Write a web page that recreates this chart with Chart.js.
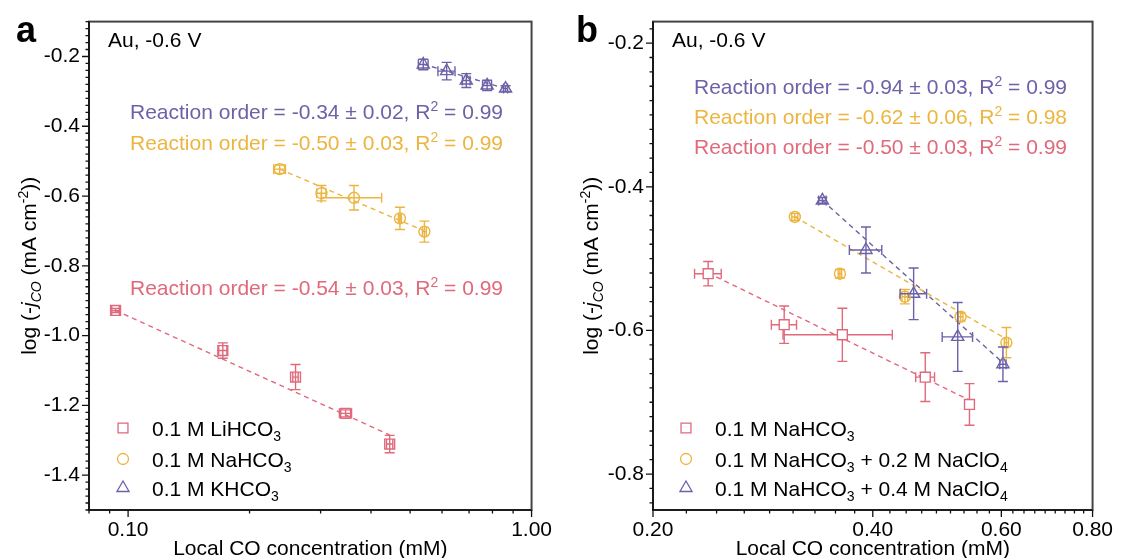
<!DOCTYPE html>
<html><head><meta charset="utf-8">
<script src="https://cdn.jsdelivr.net/npm/chart.js@4/dist/chart.umd.min.js"></script>
<style>
html,body{margin:0;padding:0;background:#fff;}
#wrap{position:relative;width:1121px;height:558px;overflow:hidden;background:#fff;}
#ca{position:absolute;left:0;top:0;}
#cb{position:absolute;left:560px;top:0;}
</style></head><body>
<div id="wrap"><canvas id="ca" width="560" height="558"></canvas><canvas id="cb" width="561" height="558"></canvas></div>
<script>
// ---------- DATA ----------
// Panel a
const aXTickLabels = [0.10, 1.00];
const aYTickLabels = [-1.4, -1.2, -1.0, -0.8, -0.6, -0.4, -0.2];
const aLiX = [0.0931, 0.1717, 0.260, 0.346, 0.445];
const aLiY = [-0.928, -1.043, -1.119, -1.223, -1.311];
const aLiXErr = [0.002, 0.004, 0.004, 0.012, 0.008];
const aLiYErr = [0.006, 0.022, 0.036, 0.010, 0.025];
const aNaX = [0.2375, 0.3015, 0.363, 0.4718, 0.5425];
const aNaY = [-0.523, -0.592, -0.605, -0.664, -0.702];
const aNaXErr = [0.008, 0.008, 0.062, 0.004, 0.006];
const aNaYErr = [0.012, 0.022, 0.035, 0.032, 0.030];
const aKX = [0.539, 0.616, 0.689, 0.776, 0.862];
const aKY = [-0.223, -0.242, -0.269, -0.283, -0.292];
const aKXErr = [0.015, 0.030, 0.015, 0.020, 0.010];
const aKYErr = [0.015, 0.025, 0.020, 0.015, 0.008];
const aLiFitX = [0.0931, 0.445], aLiFitY = [-0.928, -1.285];
const aNaFitX = [0.2375, 0.5425], aNaFitY = [-0.523, -0.700];
const aKFitX = [0.539, 0.862], aKFitY = [-0.222, -0.292];
const aLabels = ['0.1 M LiHCO|3', '0.1 M NaHCO|3', '0.1 M KHCO|3'];
const aOrders = [['-0.34', '0.02', '0.99'], ['-0.50', '0.03', '0.99'], ['-0.54', '0.03', '0.99']];

// Panel b
const bXTickLabels = [0.20, 0.40, 0.60, 0.80];
const bYTickLabels = [-0.8, -0.6, -0.4, -0.2];
const bNaX = [0.238, 0.3025, 0.3634, 0.472, 0.5426];
const bNaY = [-0.521, -0.592, -0.606, -0.665, -0.703];
const bNaXErr = [0.010, 0.012, 0.062, 0.014, 0.005];
const bNaYErr = [0.017, 0.026, 0.037, 0.034, 0.029];
const bP2X = [0.3128, 0.3606, 0.4426, 0.5276, 0.6096];
const bP2Y = [-0.442, -0.521, -0.553, -0.581, -0.617];
const bP2XErr = [0.003, 0.002, 0.004, 0.004, 0.004];
const bP2YErr = [0.005, 0.006, 0.010, 0.006, 0.021];
const bP4X = [0.3412, 0.3915, 0.455, 0.5229, 0.603];
const bP4Y = [-0.419, -0.488, -0.549, -0.609, -0.647];
const bP4XErr = [0.004, 0.020, 0.019, 0.025, 0.006];
const bP4YErr = [0.004, 0.032, 0.036, 0.048, 0.024];
const bNaFitX = [0.238, 0.5426], bNaFitY = [-0.520, -0.697];
const bP2FitX = [0.3128, 0.6096], bP2FitY = [-0.442, -0.612];
const bP4FitX = [0.3412, 0.603], bP4FitY = [-0.419, -0.645];
const bLabels = ['0.1 M NaHCO|3', '0.1 M NaHCO|3| + 0.2 M NaClO|4', '0.1 M NaHCO|3| + 0.4 M NaClO|4'];
const bOrders = [['-0.94', '0.03', '0.99'], ['-0.62', '0.06', '0.98'], ['-0.50', '0.03', '0.99']];

// ---------- STYLE ----------
const RED = '#E0697C', YEL = '#ECB540', PUR = '#6C62A8';
const FONT = '"Liberation Sans", Arial, Helvetica, sans-serif';
const FS = 21;

function pts(xs, ys) { return xs.map((x, i) => ({ x: x, y: ys[i] })); }

function drawRich(ctx, segs, x, y, size, color, align) {
  const fontFor = s => (s.b ? 'bold ' : '') + (s.it ? 'italic ' : '') + ((s.sub || s.sup) ? Math.round(size * 0.68) : size) + 'px ' + FONT;
  let total = 0;
  segs.forEach(s => { ctx.font = fontFor(s); s.w = ctx.measureText(s.t).width; total += s.w; });
  let cx = align === 'center' ? x - total / 2 : (align === 'right' ? x - total : x);
  ctx.fillStyle = color; ctx.textBaseline = 'alphabetic'; ctx.textAlign = 'left';
  segs.forEach(s => {
    ctx.font = fontFor(s);
    const dy = s.sub ? size * 0.28 : (s.sup ? -size * 0.38 : 0);
    ctx.fillText(s.t, cx, y + dy);
    cx += s.w;
  });
}
function subSegs(label) {
  return label.split('|').map((t, i) => ({ t: t, sub: i % 2 === 1 }));
}
function orderSegs(o) {
  return [{ t: 'Reaction order = ' + o[0] + ' \u00B1 ' + o[1] + ', R' }, { t: '2', sup: true }, { t: ' = ' + o[2] }];
}

function minorLinear(min, max, step) {
  const out = [];
  for (let v = Math.ceil(min / step - 1e-6) * step; v <= max + 1e-9; v += step) out.push(+v.toFixed(4));
  return out;
}

function drawErrors(chart, over) {
  const ctx = chart.ctx, xs = chart.scales.x, ys = chart.scales.y;
  ctx.save();
  chart.data.datasets.forEach(ds => {
    if (!ds.errX || !!ds.errOver !== over) return;
    ctx.strokeStyle = ds.borderColor; ctx.lineWidth = 1.4;
    ds.data.forEach((p, i) => {
      const px = xs.getPixelForValue(p.x), py = ys.getPixelForValue(p.y);
      const ex = ds.errX[i], ey = ds.errY[i];
      const x1 = xs.getPixelForValue(p.x - ex), x2 = xs.getPixelForValue(p.x + ex);
      const y1 = ys.getPixelForValue(p.y - ey), y2 = ys.getPixelForValue(p.y + ey);
      const cap = 5;
      ctx.beginPath();
      ctx.moveTo(x1, py); ctx.lineTo(x2, py);
      ctx.moveTo(x1, py - cap); ctx.lineTo(x1, py + cap);
      ctx.moveTo(x2, py - cap); ctx.lineTo(x2, py + cap);
      ctx.moveTo(px, y1); ctx.lineTo(px, y2);
      ctx.moveTo(px - cap, y1); ctx.lineTo(px + cap, y1);
      ctx.moveTo(px - cap, y2); ctx.lineTo(px + cap, y2);
      ctx.stroke();
    });
  });
  ctx.restore();
}

const decorPlugin = {
  id: 'decor',
  beforeDatasetsDraw(chart) { drawErrors(chart, false); },
  afterDatasetsDraw(chart) { drawErrors(chart, true); },
  afterDraw(chart) {
    const o = chart.options.plugins.decor, ctx = chart.ctx, a = chart.chartArea;
    const xs = chart.scales.x, ys = chart.scales.y;
    ctx.save();
    // frame
    ctx.strokeStyle = '#444'; ctx.lineWidth = 2;
    ctx.strokeRect(a.left, a.top, a.right - a.left, a.bottom - a.top);
    ctx.strokeStyle = '#111'; ctx.lineWidth = 1.6;
    ctx.beginPath(); ctx.moveTo(a.left, a.top); ctx.lineTo(a.left, a.bottom); ctx.lineTo(a.right, a.bottom); ctx.stroke();
    // ticks
    ctx.lineWidth = 1.3; ctx.strokeStyle = '#111';
    ctx.beginPath();
    o.yMinor.forEach(v => { const y = ys.getPixelForValue(v); if (y < a.top - 0.5 || y > a.bottom + 0.5) return; ctx.moveTo(a.left - 3.5, y); ctx.lineTo(a.left, y); });
    o.yMajor.forEach(v => { const y = ys.getPixelForValue(v); ctx.moveTo(a.left - 7, y); ctx.lineTo(a.left, y); });
    o.xMinor.forEach(v => { const x = xs.getPixelForValue(v); if (x < a.left - 0.5 || x > a.right + 0.5) return; ctx.moveTo(x, a.bottom); ctx.lineTo(x, a.bottom + 3.5); });
    o.xMajor.forEach(v => { const x = xs.getPixelForValue(v); ctx.moveTo(x, a.bottom); ctx.lineTo(x, a.bottom + 7); });
    ctx.stroke();
    // panel letter
    drawRich(ctx, [{ t: o.letter, b: true }], 16, 42, 36, '#000', 'left');
    // condition label
    drawRich(ctx, [{ t: 'Au, -0.6 V' }], o.auX, 47, FS, '#000', 'left');
    // reaction orders
    o.orders.forEach((r, i) => drawRich(ctx, orderSegs(r), o.ordX, o.ordY[i], FS, o.ordColors[i], 'left'));
    // legend
    o.legend.forEach((l, i) => {
      const y = o.legY[i];
      ctx.save();
      ctx.strokeStyle = l.color; ctx.fillStyle = 'rgba(255,255,255,0)'; ctx.lineWidth = 1.3;
      Chart.helpers.drawPoint(ctx, { pointStyle: l.style, radius: l.r, rotation: 0, borderWidth: 1.3 }, o.legMX, y);
      ctx.restore();
      drawRich(ctx, subSegs(l.text), o.legTX, y + 7.5, FS, '#000', 'left');
    });
    // x title
    drawRich(ctx, [{ t: 'Local CO concentration (mM)' }], (a.left + a.right) / 2, 555, FS, '#000', 'center');
    // y title (rotated)
    ctx.translate(o.yTitleX, (a.top + a.bottom) / 2);
    ctx.rotate(-Math.PI / 2);
    drawRich(ctx, [{ t: 'log (-' }, { t: 'j', it: true }, { t: 'CO', it: true, sub: true }, { t: ' (mA cm' }, { t: '-2', sup: true }, { t: '))' }], 0, 7.5, FS, '#000', 'center');
    ctx.restore();
  }
};

function scatterSet(xs, ys, ex, ey, color, style, r, fill, over) {
  return { type: 'scatter', data: pts(xs, ys), errX: ex, errY: ey, errOver: over, borderColor: color, backgroundColor: fill,
    pointStyle: style, pointRadius: r, pointBorderWidth: 1.4, pointHoverRadius: r, order: 1 };
}
function fitSet(xs, ys, color) {
  return { type: 'scatter', data: pts(xs, ys), showLine: true, borderColor: color, borderWidth: 1.4,
    borderDash: [5, 4], pointRadius: 0, fill: false, order: 3 };
}

function makeChart(id, W, area, xr, yr, xMajor, xMinor, yMajor, yMinor, datasets, deco) {
  deco.xMajor = xMajor; deco.xMinor = xMinor; deco.yMajor = yMajor; deco.yMinor = yMinor;
  return new Chart(document.getElementById(id), {
    type: 'scatter',
    data: { datasets: datasets },
    options: {
      responsive: false, animation: false, devicePixelRatio: 1,
      layout: { padding: { left: 0, top: area.top, right: W - area.right, bottom: 0 } },
      plugins: { legend: { display: false }, tooltip: { enabled: false }, decor: deco },
      scales: {
        x: {
          type: 'logarithmic', min: xr[0], max: xr[1],
          afterBuildTicks: s => { s.ticks = xMajor.map(v => ({ value: v })); },
          afterFit: s => { s.height = 558 - area.bottom; },
          grid: { display: false, drawTicks: false }, border: { display: false },
          ticks: { callback: v => Number(v).toFixed(2), color: '#000', font: { family: FONT, size: FS }, padding: 8, maxRotation: 0, autoSkip: false },
          title: { display: false }
        },
        y: {
          type: 'linear', min: yr[0], max: yr[1],
          afterBuildTicks: s => { s.ticks = yMajor.map(v => ({ value: v })); },
          afterFit: s => { s.width = area.left; },
          grid: { display: false, drawTicks: false }, border: { display: false },
          ticks: { callback: v => Number(v).toFixed(1), color: '#000', font: { family: FONT, size: FS }, padding: 9, autoSkip: false }
        }
      }
    },
    plugins: [decorPlugin]
  });
}

// Panel a
const aXMinor = [0.08, 0.09, 0.2, 0.3, 0.4, 0.5, 0.6, 0.7, 0.8, 0.9];
const T = 'rgba(255,255,255,0)';
makeChart('ca', 560, { left: 89, right: 537, top: 21, bottom: 510 }, [0.08, 1.0], [-1.5, -0.1],
  aXTickLabels, aXMinor, aYTickLabels, minorLinear(-1.5, -0.1, 0.02),
  [
    scatterSet(aLiX, aLiY, aLiXErr, aLiYErr, RED, 'rect', 7, T, false),
    scatterSet(aNaX, aNaY, aNaXErr, aNaYErr, YEL, 'circle', 5.5, T, false),
    scatterSet(aKX, aKY, aKXErr, aKYErr, PUR, 'triangle', 7, T, false),
    fitSet(aLiFitX, aLiFitY, RED), fitSet(aNaFitX, aNaFitY, YEL), fitSet(aKFitX, aKFitY, PUR)
  ],
  { letter: 'a', auX: 108, ordX: 130, ordY: [119, 150, 295], orders: aOrders, ordColors: [PUR, YEL, RED],
    legMX: 123, legTX: 152, legY: [428, 459, 488], yTitleX: 28,
    legend: [{ text: aLabels[0], color: RED, style: 'rect', r: 7 }, { text: aLabels[1], color: YEL, style: 'circle', r: 5.5 }, { text: aLabels[2], color: PUR, style: 'triangle', r: 7 }] });

// Panel b
const bXMinor = [];
for (let k = 0; k < 3; k++) for (let j = 1; j < 9; j++) bXMinor.push(+(bXTickLabels[k] + j * 0.2 / 9).toFixed(4));
makeChart('cb', 561, { left: 93, right: 539, top: 21, bottom: 510 }, [0.2, 0.8], [-0.85, -0.17],
  bXTickLabels, bXMinor, bYTickLabels, minorLinear(-0.85, -0.17, 0.02),
  [
    scatterSet(bNaX, bNaY, bNaXErr, bNaYErr, RED, 'rect', 7, '#fff', false),
    scatterSet(bP2X, bP2Y, bP2XErr, bP2YErr, YEL, 'circle', 5.5, T, true),
    scatterSet(bP4X, bP4Y, bP4XErr, bP4YErr, PUR, 'triangle', 7, T, true),
    fitSet(bNaFitX, bNaFitY, RED), fitSet(bP2FitX, bP2FitY, YEL), fitSet(bP4FitX, bP4FitY, PUR)
  ],
  { letter: 'b', auX: 112, ordX: 134, ordY: [94, 124, 154], orders: bOrders, ordColors: [PUR, YEL, RED],
    legMX: 126, legTX: 155, legY: [428, 459, 488], yTitleX: 30,
    legend: [{ text: bLabels[0], color: RED, style: 'rect', r: 7 }, { text: bLabels[1], color: YEL, style: 'circle', r: 5.5 }, { text: bLabels[2], color: PUR, style: 'triangle', r: 7 }] });
</script>
</body></html>
